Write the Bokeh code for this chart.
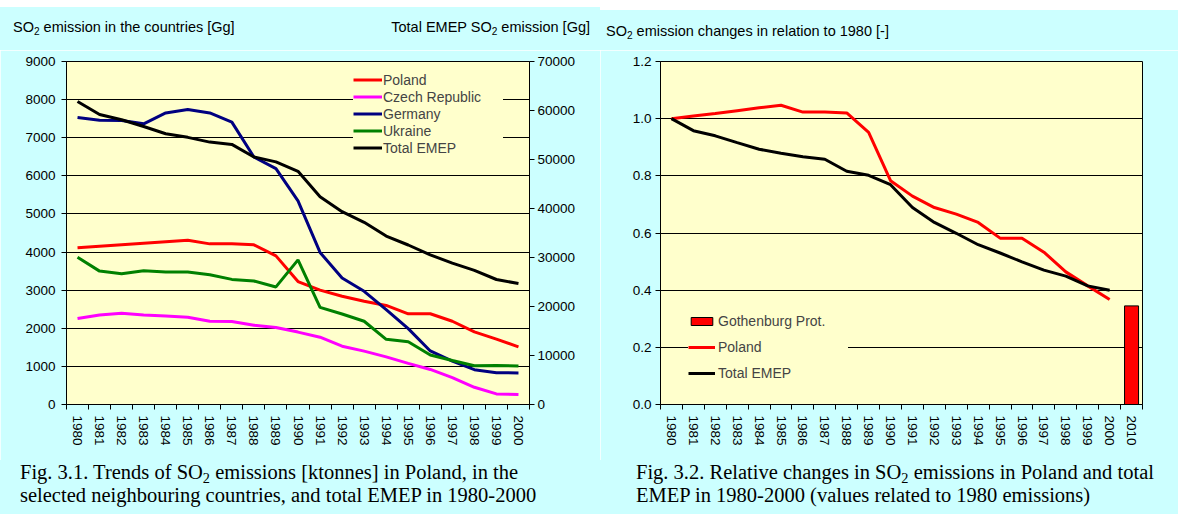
from bokeh.plotting import figure
from bokeh.models import (Range1d, LinearAxis, FixedTicker, Legend,
                          LegendItem, PrintfTickFormatter, Div)
from bokeh.layouts import row, column
from bokeh.embed import file_html
from bokeh.resources import INLINE

# ---------------- data ----------------
years = ["1980", "1981", "1982", "1983", "1984", "1985", "1986", "1987", "1988",
         "1989", "1990", "1991", "1992", "1993", "1994", "1995", "1996", "1997",
         "1998", "1999", "2000"]
years_rel = years + ["2010"]

poland = [4110, 4150, 4190, 4230, 4270, 4310, 4215, 4215, 4190, 3900, 3225,
          3000, 2840, 2710, 2600, 2380, 2380, 2185, 1905, 1714, 1513]
czech = [2256, 2350, 2395, 2350, 2325, 2290, 2186, 2177, 2082, 2020, 1900,
         1765, 1530, 1400, 1250, 1080, 920, 705, 452, 278, 262]
germany = [7530, 7460, 7450, 7365, 7650, 7740, 7650, 7410, 6495, 6190, 5345,
           3990, 3320, 2970, 2490, 1990, 1405, 1140, 913, 835, 827]
ukraine = [3865, 3500, 3430, 3510, 3475, 3475, 3405, 3283, 3240, 3085, 3795,
           2550, 2375, 2185, 1710, 1645, 1300, 1155, 1017, 1026, 1010]
emep_total = [61830, 59190, 58100, 56740, 55260, 54520, 53550, 53080, 50520,
              49510, 47600, 42390, 39360, 37180, 34380, 32550, 30530, 28860,
              27380, 25510, 24690]

poland_rel = [1.000, 1.009, 1.018, 1.028, 1.038, 1.047, 1.023, 1.023, 1.020,
              0.952, 0.783, 0.729, 0.689, 0.666, 0.637, 0.582, 0.582, 0.533,
              0.464, 0.415, 0.367]
emep_rel = [1.000, 0.958, 0.940, 0.916, 0.893, 0.879, 0.867, 0.858, 0.816,
            0.802, 0.769, 0.689, 0.637, 0.599, 0.559, 0.530, 0.499, 0.470,
            0.449, 0.415, 0.400]
gothenburg_2010 = [0.345]

left_ticks = [0, 1000, 2000, 3000, 4000, 5000, 6000, 7000, 8000, 9000]
right_ticks = [0, 10000, 20000, 30000, 40000, 50000, 60000, 70000]
rel_ticks = [0.0, 0.2, 0.4, 0.6, 0.8, 1.0, 1.2]

title_left = "SO<sub>2</sub> emission in the countries [Gg]"
title_right = "Total EMEP SO<sub>2</sub> emission [Gg]"
title_rel = "SO<sub>2</sub> emission changes in relation to 1980 [-]"
caption_1 = ["Fig. 3.1. Trends of SO<sub>2</sub> emissions [ktonnes] in Poland, in the",
             "selected neighbouring countries, and total EMEP in 1980-2000"]
caption_2 = ["Fig. 3.2. Relative changes in SO<sub>2</sub> emissions in Poland and total",
             "EMEP in 1980-2000 (values related to 1980 emissions)"]

# ---------------- styles ----------------
CYAN = "#CCFFFF"
PLOT_BG = "#FFFFCC"
SANS = "Liberation Sans"
SERIF = "Liberation Serif"
TICK_FS = "13.5px"
W1, W2 = 600, 578
H_TOP, H_FIG, H_CAP = 50, 410, 54


def style_cat_axis(ax, n, labels):
    centers = [i + 0.5 for i in range(n)]
    bounds = list(range(n + 1))
    ax.ticker = FixedTicker(ticks=centers, minor_ticks=bounds)
    ax.major_label_overrides = {c: lab for c, lab in zip(centers, labels)}
    ax.major_label_orientation = "vertical"
    ax.major_tick_line_color = None
    ax.major_tick_out = 0
    ax.major_tick_in = 0
    ax.minor_tick_line_color = "black"
    ax.minor_tick_out = 5
    ax.minor_tick_in = 0
    ax.major_label_standoff = 6
    ax.axis_line_color = "black"
    ax.major_label_text_font = SANS
    ax.major_label_text_font_size = TICK_FS
    ax.major_label_text_color = "black"


def style_val_axis(ax, ticks, standoff):
    ax.ticker = FixedTicker(ticks=ticks)
    ax.major_tick_out = 5
    ax.major_tick_in = 0
    ax.minor_tick_line_color = None
    ax.major_tick_line_color = "black"
    ax.axis_line_color = "black"
    ax.major_label_standoff = standoff
    ax.major_label_text_font = SANS
    ax.major_label_text_font_size = TICK_FS
    ax.major_label_text_color = "black"


def text_div(width, height, spans):
    inner = "".join(spans)
    html = (f'<div style="position:relative;width:{width}px;height:{height}px;'
            f'background:{CYAN};color:#000;margin:0;padding:0;overflow:hidden;">{inner}</div>')
    return Div(text=html, width=width, height=height, margin=(0, 0, 0, 0),
               styles={"background-color": CYAN})


SUBCSS = "<style>sub{font-size:70%;vertical-align:-0.25em;line-height:0;}</style>"


def white_band(top, left, width, height):
    return (f'<div style="position:absolute;left:{left}px;top:{top}px;width:{width}px;'
            f'height:{height}px;background:#FFFFFF;"></div>')


def sans_span(text, top, left=None, right=None):
    pos = f"left:{left}px;" if left is not None else f"right:{right}px;"
    return (f'<span style="position:absolute;{pos}top:{top}px;white-space:nowrap;'
            f"font-family:'{SANS}';font-size:14.5px;line-height:16px;\">{text}</span>")


def serif_block(lines, top, left):
    return (f'<div style="position:absolute;left:{left}px;top:{top}px;white-space:nowrap;'
            f"font-family:'{SERIF}';font-size:20.5px;line-height:23px;\">"
            + "<br>".join(lines) + "</div>")


# ================= Figure 3.1 =================
x1 = [i + 0.5 for i in range(len(years))]
p1 = figure(width=W1, height=H_FIG, output_backend="svg", toolbar_location=None,
            x_range=Range1d(0, len(years)), y_range=Range1d(left_ticks[0], left_ticks[-1]),
            min_border_left=66, min_border_right=71, min_border_top=9,
            min_border_bottom=56, background_fill_color=PLOT_BG,
            border_fill_color=CYAN, outline_line_color="black")
p1.extra_y_ranges = {"emep": Range1d(right_ticks[0], right_ticks[-1])}

style_cat_axis(p1.xaxis[0], len(years), years)
style_val_axis(p1.yaxis[0], left_ticks, 6)
rax = LinearAxis(y_range_name="emep")
style_val_axis(rax, right_ticks, 3)
p1.add_layout(rax, "right")

p1.xgrid.visible = False
p1.ygrid.ticker = FixedTicker(ticks=left_ticks[1:-1])
p1.ygrid.grid_line_color = "black"
p1.ygrid.grid_line_width = 1

r_pl = p1.line(x1, poland, line_color="#FF0000", line_width=3)
r_cz = p1.line(x1, czech, line_color="#FF00FF", line_width=3)
r_de = p1.line(x1, germany, line_color="#000080", line_width=3)
r_ua = p1.line(x1, ukraine, line_color="#008000", line_width=3)
r_em = p1.line(x1, emep_total, line_color="black", line_width=3, y_range_name="emep")

leg1 = Legend(items=[LegendItem(label="Poland", renderers=[r_pl]),
                     LegendItem(label="Czech Republic", renderers=[r_cz]),
                     LegendItem(label="Germany", renderers=[r_de]),
                     LegendItem(label="Ukraine", renderers=[r_ua]),
                     LegendItem(label="Total EMEP", renderers=[r_em])],
              location=(287, 248), background_fill_color=PLOT_BG,
              background_fill_alpha=1.0, border_line_color=None,
              label_text_font=SANS, label_text_font_size="14px",
              glyph_width=29, glyph_height=17, label_height=17, label_width=120,
              spacing=0, padding=10, label_standoff=1, margin=0)
p1.add_layout(leg1)

# ================= Figure 3.2 =================
x2 = [i + 0.5 for i in range(len(years_rel))]
p2 = figure(width=W2, height=H_FIG, output_backend="svg", toolbar_location=None,
            x_range=Range1d(0, len(years_rel)), y_range=Range1d(rel_ticks[0], rel_ticks[-1]),
            min_border_left=60, min_border_right=36, min_border_top=11,
            min_border_bottom=54, background_fill_color=PLOT_BG,
            border_fill_color=CYAN, outline_line_color="black")

style_cat_axis(p2.xaxis[0], len(years_rel), years_rel)
style_val_axis(p2.yaxis[0], rel_ticks, 4)
p2.yaxis[0].formatter = PrintfTickFormatter(format="%.1f")

p2.xgrid.visible = False
p2.ygrid.ticker = FixedTicker(ticks=rel_ticks[1:-1])
p2.ygrid.grid_line_color = "black"
p2.ygrid.grid_line_width = 1

r_bar = p2.vbar(x=x2[len(years):], top=gothenburg_2010, width=0.64,
                fill_color="#FF0000", line_color="black", line_width=1)
r_pl2 = p2.line(x2[:len(years)], poland_rel, line_color="#FF0000", line_width=3)
r_em2 = p2.line(x2[:len(years)], emep_rel, line_color="black", line_width=3)

leg2 = Legend(items=[LegendItem(label="Gothenburg Prot.", renderers=[r_bar]),
                     LegendItem(label="Poland", renderers=[r_pl2]),
                     LegendItem(label="Total EMEP", renderers=[r_em2])],
              location=(28, 23), background_fill_color=PLOT_BG,
              background_fill_alpha=1.0, border_line_color=None,
              label_text_font=SANS, label_text_font_size="14px",
              glyph_width=27, glyph_height=10, label_height=16, label_width=130,
              spacing=10, padding=15, label_standoff=3, margin=0)
p2.add_layout(leg2)

# ================= texts =================
top1 = text_div(W1, H_TOP, [SUBCSS, white_band(0, 0, W1, 7),
                            sans_span(title_left, 19, left=13),
                            sans_span(title_right, 19, right=10)])
top2 = text_div(W2, H_TOP, [SUBCSS, white_band(0, 0, W2, 10),
                            sans_span(title_rel, 23, left=6)])
cap1 = text_div(W1, H_CAP, [SUBCSS, serif_block(caption_1, 1, 20)])
cap2 = text_div(W2, H_CAP, [SUBCSS, serif_block(caption_2, 1, 36)])

layout = column(row(top1, top2), row(p1, p2), row(cap1, cap2))
open("out.html", "w").write(file_html(layout, INLINE))
